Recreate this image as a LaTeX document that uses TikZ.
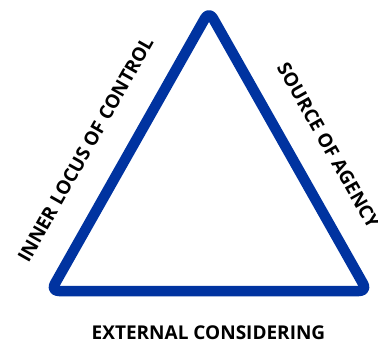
\documentclass[tikz,border=0pt]{standalone}
\usepackage{fontspec}
\setmainfont{Open Sans}
\usetikzlibrary{calc}
\definecolor{triblue}{RGB}{0,51,160}
\begin{document}
\begin{tikzpicture}[x=1pt,y=1pt,yscale=-1,xscale=1,
  side label/.style={font=\fontsize{19}{22}\selectfont\bfseries, inner sep=0pt, text=black}]
\useasboundingbox (0,0) rectangle (378,340);
%Shape: Triangle
\coordinate (apex) at (209,11.2);
\coordinate (left) at (50.8,291);
\coordinate (right) at (367.2,291);
\draw [color=triblue, line width=10.5, rounded corners=8, line join=round] ($(left)!0.5!(right)$) -- (right) -- (apex) -- (left) -- cycle;
%Labels
\node [side label, rotate=60.5] (inner) at (85.5,149.5) {INNER LOCUS OF CONTROL};
\node [side label, rotate=-60.5] (source) at (328.5,145.5) {SOURCE OF AGENCY};
\node [side label, anchor=base] (external) at (208.5,339) {EXTERNAL CONSIDERING};
\end{tikzpicture}
\end{document}
